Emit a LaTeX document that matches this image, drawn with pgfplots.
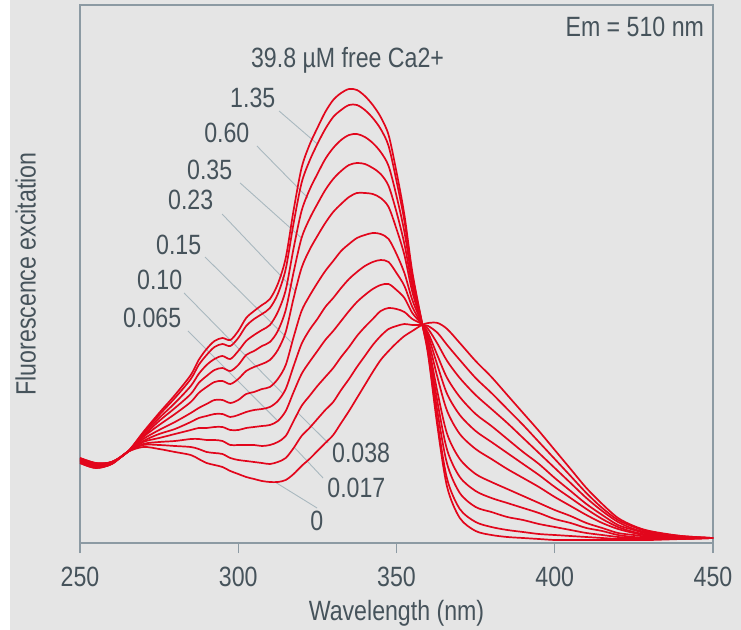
\documentclass[border=0pt]{standalone}
\usepackage{pgfplots}
\pgfplotsset{compat=1.18}
\usepackage{pgfplotstable}
\usepackage{fontspec}
\setmainfont{Liberation Sans}[FakeStretch=0.83]
\definecolor{bg}{HTML}{E5E5E5}
\definecolor{framec}{HTML}{8C9AA3}
\definecolor{txt}{HTML}{46535B}
\definecolor{curvec}{HTML}{E2061C}
\definecolor{lead}{HTML}{A9B8BF}

\pgfplotstableread{
nm c0 c1 c2 c3 c4 c5 c6 c7 c8 c9 c10
250 80 80 81 82 82 83 83 84 84 85 85
255 75 75 76 77 77 78 78 79 79 80 80
260 79 79 79 80 80 80 80 81 81 81 81
265 91 91 91 91 91 91 91 91 91 91 91
270 96 98 99 101 102 104 106 107 109 110 111
275 94 98 101 105 109 113 118 122 125 128 130
280 91 97 102 109 114 121 129 135 140 145 148
285 88 96 104 113 121 130 141 149 157 164 168
287.5 84 94 104 115 125 135 150 160 169 178 183
290 80 91 103 115 127 139 156 167 178 188 194
292.5 78 90 103 116 129 143 161 173 184 196 202
295 76 89 102 116 129 143 162 175 187 199 205
297.5 72 85 98 113 126 140 159 172 184 197 203
300 69 83 98 113 128 143 164 178 192 205 212
302.5 66 82 98 115 131 149 172 188 202 217 225
305 64 81 98 116 133 151 176 192 208 224 232
307.5 62 80 97 117 134 154 179 197 213 229 238
310 61 79 98 118 136 156 183 201 218 235 244
312.5 61 81 101 122 142 164 193 212 231 249 259
315 63 85 107 132 154 178 211 233 253 274 285
317.5 69 95 122 151 177 206 245 271 295 320 333
320 77 107 137 169 199 232 275 305 332 360 375
322.5 84 115 147 181 213 247 293 324 353 382 398
325 92 124 157 192 224 260 307 339 369 399 415
327.5 100 133 166 203 236 272 320 353 384 414 431
330 108 141 175 212 245 282 331 364 395 426 443
332.5 120 153 186 222 255 292 339 372 403 433 450
335 132 164 196 232 264 299 346 378 408 438 454
337.5 145 176 207 241 271 305 350 380 409 438 453
340 158 187 216 248 277 308 350 379 406 433 447
342.5 171 198 224 254 281 310 349 375 400 425 438
345 183 207 232 258 283 309 345 369 391 414 426
347.5 192 214 235 259 281 304 336 357 377 397 408
350 200 217 234 253 270 289 314 331 347 362 371
352.5 207 219 231 245 257 270 288 299 311 322 328
355 212 218 224 230 236 243 251 257 263 268 271
358 218 218 219 219 219 220 220 220 221 221 221
360 220 217 214 210 207 203 199 196 193 190 188
363 220 210 199 187 177 165 150 140 130 120 115
366 214 198 182 165 149 132 109 93 79 64 56
370 200 183 165 146 128 109 84 66 50 34 25
375 182 165 148 129 112 94 69 52 36 21 12
380 166 150 134 117 101 84 61 45 31 16 8
385 148 134 120 104 90 74 54 40 26 13 6
390 130 118 105 91 79 65 47 35 23 11 5
395 112 101 90 79 68 56 40 30 19 9 4
400 93 84 75 65 56 46 33 24 16 8 3
405 74 67 60 52 45 37 27 20 13 7 3
410 55 50 45 39 34 28 20 15 10 6 3
415 39 35 32 28 24 20 15 12 8 5 3
420 25 23 21 18 16 14 10 8 6 4 3
425 17 16 14 13 11 10 8 6 5 4 3
430 12 11 10 9 8 7 6 5 4 4 3
440 7 7 6 6 6 5 5 5 4 4 4
450 5 5 5 5 5 5 5 5 5 5 5
}\spectra

\begin{document}
\fontsize{28}{32}\selectfont
\begin{tikzpicture}[font=\fontsize{28}{32}\selectfont,
  spec/.style={draw=curvec, line width=1.7bp, smooth, mark=none}]
\path[use as bounding box, fill=bg] (-80bp,-87bp) rectangle (661bp,543bp);
\fill[white] (-80bp,-87bp) rectangle (-70bp,543bp);
\begin{axis}[
  at={(0,0)}, anchor=south west,
  scale only axis, width=633bp, height=538bp,
  xmin=250, xmax=450, ymin=0, ymax=538,
  axis line style={framec, line width=1.3bp},
  xtick={250,300,350,400,450}, ytick=\empty,
  xtick pos=bottom, tick align=outside, major tick length=10bp,
  tick style={framec, line width=1.3bp},
  /pgf/number format/assume math mode=true,
  xticklabel style={text=txt, inner sep=0pt, anchor=north, yshift=-14bp},
  xlabel={Wavelength (nm)}, ylabel={Fluorescence excitation},
  xlabel style={text=txt, inner sep=0pt, at={(axis description cs:0.5,0)}, anchor=base, yshift=-77bp},
  ylabel style={text=txt, inner sep=0pt, at={(axis description cs:-0.0703,0.5)}, anchor=base},
  clip mode=individual,
]
% leader lines
\draw[lead, line width=0.9bp] (axis cs:312.9,432) -- (axis cs:325,399);
\draw[lead, line width=0.9bp] (axis cs:305.9,397) -- (axis cs:322,345);
\draw[lead, line width=0.9bp] (axis cs:300.6,360) -- (axis cs:320,305);
\draw[lead, line width=0.9bp] (axis cs:294.9,329) -- (axis cs:318,252);
\draw[lead, line width=0.9bp] (axis cs:289.5,286) -- (axis cs:317,200);
\draw[lead, line width=0.9bp] (axis cs:282.9,250) -- (axis cs:314.2,149);
\draw[lead, line width=0.9bp] (axis cs:284.1,212) -- (axis cs:312.2,123);
\draw[lead, line width=0.9bp] (axis cs:328.4,100) -- (axis cs:318.9,130);
\draw[lead, line width=0.9bp] (axis cs:326.8,65) -- (axis cs:317.6,96);
\draw[lead, line width=0.9bp] (axis cs:324.9,35) -- (axis cs:311.6,61);

\addplot[spec] table[x=nm, y=c0] {\spectra};
\addplot[spec] table[x=nm, y=c1] {\spectra};
\addplot[spec] table[x=nm, y=c2] {\spectra};
\addplot[spec] table[x=nm, y=c3] {\spectra};
\addplot[spec] table[x=nm, y=c4] {\spectra};
\addplot[spec] table[x=nm, y=c5] {\spectra};
\addplot[spec] table[x=nm, y=c6] {\spectra};
\addplot[spec] table[x=nm, y=c7] {\spectra};
\addplot[spec] table[x=nm, y=c8] {\spectra};
\addplot[spec] table[x=nm, y=c9] {\spectra};
\addplot[spec] table[x=nm, y=c10] {\spectra};

\node[anchor=base east, inner sep=0pt, text=txt] at (axis cs:447.2,506) {Em = 510 nm};
\node[anchor=base west, inner sep=0pt, text=txt] at (axis cs:304.0,475) {39.8 µM free Ca2+};
\node[anchor=base west, inner sep=0pt, text=txt] at (axis cs:297.4,435) {1.35};
\node[anchor=base west, inner sep=0pt, text=txt] at (axis cs:289.2,400) {0.60};
\node[anchor=base west, inner sep=0pt, text=txt] at (axis cs:283.8,363) {0.35};
\node[anchor=base west, inner sep=0pt, text=txt] at (axis cs:277.8,333) {0.23};
\node[anchor=base west, inner sep=0pt, text=txt] at (axis cs:274.0,288) {0.15};
\node[anchor=base west, inner sep=0pt, text=txt] at (axis cs:268.0,253) {0.10};
\node[anchor=base west, inner sep=0pt, text=txt] at (axis cs:263.6,215) {0.065};
\node[anchor=base west, inner sep=0pt, text=txt] at (axis cs:329.6,81) {0.038};
\node[anchor=base west, inner sep=0pt, text=txt] at (axis cs:328.1,46) {0.017};
\node[anchor=base west, inner sep=0pt, text=txt] at (axis cs:322.7,13) {0};
\end{axis}
\end{tikzpicture}
\end{document}
